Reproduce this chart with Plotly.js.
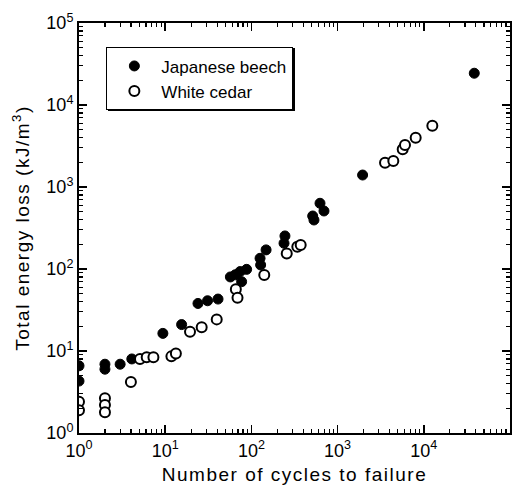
<!DOCTYPE html>
<html>
<head>
<meta charset="utf-8">
<script src="https://cdn.plot.ly/plotly-3.0.1.min.js"></script>
<style>
html,body{margin:0;padding:0;background:#fff;}
#chart{width:523px;height:485px;}
#chart .legend rect.bg{filter: drop-shadow(2.5px 1.5px 0 #000);}
#chart .g-xtitle text, #chart .g-ytitle text{letter-spacing:1.5px;}
</style>
</head>
<body>
<div id="chart"></div>
<script>
// Japanese beech (filled circles)
const beechCycles = [1, 1, 2, 2, 3, 4.1, 9.4, 15.5, 24, 31, 41, 57, 65, 77, 74, 88, 126, 128, 148, 239, 245, 514, 532, 625, 695, 1950, 38500];
const beechEnergy = [6.6, 4.3, 6.9, 6.0, 6.9, 8.0, 16.4, 21, 38, 41, 43, 80, 85, 70, 93, 99, 135, 112, 171, 206, 253, 443, 396, 633, 510, 1400, 24400];
// White cedar (open circles)
const cedarCycles = [1, 1, 2, 2, 2, 4, 5.1, 6.1, 7.3, 11.8, 13.3, 19.4, 26.5, 39.6, 66, 69, 141, 257, 341, 373, 3550, 4430, 5690, 6050, 8050, 12560];
const cedarEnergy = [2.4, 1.9, 2.65, 2.2, 1.79, 4.2, 8.0, 8.4, 8.4, 8.6, 9.3, 17.2, 19.5, 24.3, 56.6, 44.7, 84.5, 155, 187, 196, 1980, 2075, 2880, 3250, 3990, 5590];

const seriesNames = ["Japanese beech", "White cedar"];
const decadeVals = [1, 10, 100, 1000, 10000, 100000];
const decadeText = ["10<sup>0</sup>", "10<sup>1</sup>", "10<sup>2</sup>", "10<sup>3</sup>", "10<sup>4</sup>", "10<sup>5</sup>"];

const minorVals = [];
for (let d = 0; d < 5; d++) {
  for (let m = 2; m <= 9; m++) minorVals.push(m * Math.pow(10, d));
}

const FONT = "Liberation Sans, Arial, Helvetica, sans-serif";

const traces = [
  {
    x: beechCycles, y: beechEnergy, name: seriesNames[0],
    mode: "markers", type: "scatter",
    marker: {symbol: "circle", size: 10, color: "#000", line: {color: "#000", width: 1}}
  },
  {
    x: cedarCycles, y: cedarEnergy, name: seriesNames[1],
    mode: "markers", type: "scatter",
    marker: {symbol: "circle", size: 10, color: "#fff", line: {color: "#000", width: 2}}
  }
];

const axisCommon = {
  type: "log",
  tickmode: "array",
  tickvals: decadeVals,
  ticktext: decadeText,
  ticks: "inside",
  ticklen: 8,
  tickwidth: 1.5,
  tickcolor: "#000",
  showline: true,
  linecolor: "#000",
  linewidth: 2,
  mirror: "allticks",
  showgrid: false,
  zeroline: false,
  tickfont: {family: FONT, size: 18, color: "#000"},
  minor: {tickmode: "array", tickvals: minorVals, ticks: "inside", ticklen: 4, tickwidth: 1.2, tickcolor: "#000", showgrid: false}
};

const layout = {
  width: 523, height: 485,
  margin: {l: 79, r: 13, t: 23, b: 52},
  paper_bgcolor: "#fff", plot_bgcolor: "#fff",
  font: {family: FONT, color: "#000"},
  showlegend: true,
  legend: {
    x: 0.063, y: 0.941, xanchor: "left", yanchor: "top",
    bgcolor: "#fff", bordercolor: "#000", borderwidth: 1.2,
    font: {family: FONT, size: 17, color: "#000"},
    itemwidth: 44, tracegroupgap: 0
  },
  xaxis: Object.assign({}, axisCommon, {
    range: [0, 5],
    title: {text: "Number of cycles to failure", font: {family: FONT, size: 19, color: "#000"}, standoff: 9}
  }),
  yaxis: Object.assign({}, axisCommon, {
    range: [0, 5],
    title: {text: "Total energy loss (kJ/m<sup>3</sup>)", font: {family: FONT, size: 19, color: "#000"}, standoff: 12}
  })
};

Plotly.newPlot("chart", traces, layout, {displayModeBar: false, staticPlot: true});
</script>
</body>
</html>
